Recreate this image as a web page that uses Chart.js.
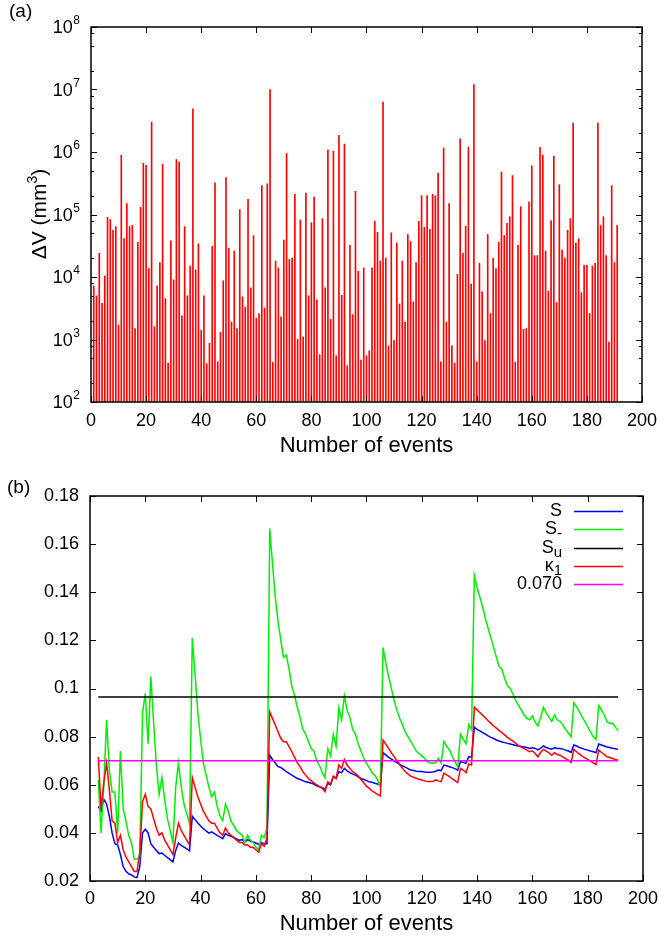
<!DOCTYPE html>
<html>
<head>
<meta charset="utf-8">
<title>Event volumes and entropy estimators</title>
<script src="https://cdn.jsdelivr.net/npm/chart.js@4.4.0/dist/chart.umd.min.js"></script>
<style>
    html, body { margin: 0; padding: 0; background: #fff; }
    .panel { position: absolute; left: 0; width: 665px; height: 468px; }
    #panelA { top: 0; }
    #panelB { top: 468px; }
</style>
</head>
<body>
<div class="panel" id="panelA"><canvas id="volumeChart" width="665" height="468"></canvas></div>
<div class="panel" id="panelB"><canvas id="entropyChart" width="665" height="468"></canvas></div>
<script>
(function() {
    'use strict';

    // ---- data ---------------------------------------------------------

    // Volume change of each event (mm^3), events 1..191
    const DV_VALUES = [
        7200, 5000, 24000, 3800, 10400, 90000, 83000, 56000, 64000, 1700,
        890000, 41000, 150000, 64000, 67000, 1500, 36000, 130000, 660000, 610000,
        13600, 3000000, 1600, 7200, 17000, 640000, 4500, 420, 38000, 9000,
        760000, 690000, 2400, 64000, 5000, 15000, 4900000, 13000, 34000, 1400,
        5000, 410, 870, 31000, 320000, 440, 1300, 8700, 390000, 29000,
        1900, 26000, 1500, 120000, 4800, 3300, 175000, 6700, 46000, 2200,
        2600, 290000, 3200, 310000, 10000000, 430, 18000, 14000, 2300, 39000,
        950000, 19000, 20000, 210000, 1000, 82000, 1100, 220000, 5000, 74000,
        190000, 4300, 570, 86000, 6700, 1080000, 2100, 1030000, 550, 1850000,
        5100, 1340000, 380, 32000, 2500, 235000, 12300, 470, 14000, 550,
        660, 14000, 78000, 52000, 18000, 6300000, 20000, 790, 51000, 960,
        35000, 3700, 18000, 1900, 48000, 37000, 4000, 17000, 78000, 200000,
        62000, 200000, 58000, 210000, 200000, 460000, 440, 1160000, 1900, 150000,
        790, 420, 11000, 1630000, 24000, 65000, 1200000, 7700, 12000000, 440,
        16600, 5800, 960, 48000, 2600, 20000, 13600, 36000, 480000, 46000,
        72000, 92000, 420000, 430, 32000, 133000, 1460, 1500, 160000, 600000,
        22000, 22000, 1190000, 890000, 26000, 5900, 80000, 860000, 3900, 300000,
        27000, 20000, 56000, 86000, 2900000, 35000, 41000, 5600, 15400, 15400,
        2600, 15000, 16600, 2900000, 67000, 92000, 22000, 910, 290000, 17000, 67000
    ];
    const DV_FIRST_EVENT = 1;

    // Estimators, events 3..191
    const SERIES_FIRST_EVENT = 3;
    const S_VALUES = [
        0.051, 0.049, 0.054, 0.052, 0.047, 0.040, 0.0355, 0.035, 0.031, 0.026,
        0.024, 0.023, 0.0225, 0.0217, 0.0214, 0.026, 0.040, 0.0415, 0.040, 0.0355,
        0.034, 0.0327, 0.0314, 0.0316, 0.0307, 0.0297, 0.0289, 0.0279, 0.0327, 0.0358,
        0.0348, 0.0341, 0.0334, 0.0325, 0.0469, 0.0455, 0.0441, 0.0429, 0.0417, 0.0408,
        0.0399, 0.0404, 0.0397, 0.039, 0.0383, 0.0376, 0.0397, 0.039, 0.0386, 0.038,
        0.0375, 0.0369, 0.0372, 0.0362, 0.0372, 0.0366, 0.0362, 0.0358, 0.0352, 0.036,
        0.0355, 0.0355, 0.0723, 0.0705, 0.0691, 0.0675, 0.0672, 0.0664, 0.0654, 0.0647,
        0.064, 0.0633, 0.0626, 0.0622, 0.0617, 0.0612, 0.061, 0.0606, 0.0603, 0.0596,
        0.0592, 0.0588, 0.0581, 0.0606, 0.0599, 0.0633, 0.0626, 0.0654, 0.065, 0.0668,
        0.0658, 0.065, 0.0644, 0.064, 0.0633, 0.0626, 0.0622, 0.0617, 0.0612, 0.061,
        0.0606, 0.0603, 0.0599, 0.0733, 0.0724, 0.0714, 0.0706, 0.0699, 0.0692, 0.0685,
        0.0678, 0.0673, 0.0667, 0.0661, 0.0659, 0.0656, 0.0655, 0.0655, 0.0653, 0.0652,
        0.0652, 0.0653, 0.0656, 0.0661, 0.0659, 0.0682, 0.0679, 0.0675, 0.0671, 0.0667,
        0.0661, 0.0696, 0.0693, 0.0689, 0.0717, 0.0714, 0.0839, 0.083, 0.0824, 0.0817,
        0.081, 0.0803, 0.0797, 0.0792, 0.0786, 0.0782, 0.0778, 0.0775, 0.0772, 0.0769,
        0.0766, 0.0763, 0.0761, 0.0759, 0.0757, 0.0755, 0.0751, 0.0754, 0.0751, 0.0745,
        0.0752, 0.0761, 0.0755, 0.0751, 0.0748, 0.0754, 0.0751, 0.0751, 0.0748, 0.0744,
        0.074, 0.0734, 0.0765, 0.0761, 0.0755, 0.0751, 0.0747, 0.0744, 0.074, 0.0737,
        0.0733, 0.0769, 0.0765, 0.0761, 0.0757, 0.0755, 0.0752, 0.075, 0.0747
    ];
    const S_MINUS_VALUES = [
        0.062, 0.040, 0.060, 0.087, 0.066, 0.057, 0.057, 0.040, 0.074, 0.050,
        0.045, 0.039, 0.036, 0.029, 0.029, 0.030, 0.090, 0.098, 0.077, 0.105,
        0.086, 0.068, 0.056, 0.063, 0.054, 0.046, 0.041, 0.036, 0.059, 0.069,
        0.059, 0.052, 0.048, 0.044, 0.121, 0.106, 0.090, 0.079, 0.069, 0.064,
        0.059, 0.055, 0.057, 0.051, 0.047, 0.045, 0.052, 0.049, 0.045, 0.043,
        0.041, 0.040, 0.039, 0.036, 0.039, 0.037, 0.036, 0.034, 0.033, 0.039,
        0.038, 0.042, 0.1665, 0.152, 0.138, 0.128, 0.120, 0.113, 0.114, 0.108,
        0.101, 0.097, 0.092, 0.088, 0.083, 0.081, 0.078, 0.075, 0.074, 0.070,
        0.068, 0.065, 0.063, 0.075, 0.072, 0.081, 0.076, 0.092, 0.087, 0.097,
        0.091, 0.088, 0.083, 0.081, 0.077, 0.074, 0.071, 0.069, 0.067, 0.065,
        0.064, 0.062, 0.059, 0.117, 0.1105, 0.105, 0.100, 0.095, 0.091, 0.0876,
        0.085, 0.082, 0.080, 0.078, 0.076, 0.074, 0.073, 0.072, 0.071, 0.0696,
        0.069, 0.069, 0.069, 0.071, 0.069, 0.078, 0.076, 0.0745, 0.072, 0.0696,
        0.0675, 0.081, 0.079, 0.077, 0.085, 0.083, 0.147, 0.142, 0.138, 0.134,
        0.129, 0.125, 0.121, 0.117, 0.113, 0.109, 0.108, 0.104, 0.101, 0.100,
        0.0975, 0.095, 0.093, 0.091, 0.089, 0.0876, 0.087, 0.0886, 0.086, 0.0845,
        0.088, 0.0922, 0.090, 0.088, 0.0863, 0.089, 0.087, 0.0863, 0.085, 0.083,
        0.0815, 0.080, 0.0941, 0.0924, 0.0903, 0.0882, 0.0862, 0.0841, 0.082, 0.080,
        0.0789, 0.093, 0.091, 0.089, 0.0862, 0.0855, 0.0856, 0.084, 0.0825
    ];
    const KAPPA1_VALUES = [
        0.0715, 0.050, 0.061, 0.069, 0.058, 0.045, 0.044, 0.036, 0.039, 0.033,
        0.030, 0.028, 0.026, 0.024, 0.024, 0.032, 0.053, 0.056, 0.051, 0.050,
        0.046, 0.042, 0.039, 0.040, 0.037, 0.035, 0.033, 0.031, 0.038, 0.044,
        0.041, 0.039, 0.037, 0.035, 0.063, 0.059, 0.055, 0.052, 0.049, 0.047,
        0.045, 0.044, 0.044, 0.042, 0.040, 0.039, 0.042, 0.040, 0.039, 0.038,
        0.037, 0.036, 0.036, 0.035, 0.035, 0.034, 0.034, 0.033, 0.032, 0.0355,
        0.0345, 0.038, 0.0903, 0.0876, 0.0848, 0.082, 0.0793, 0.0779, 0.0779, 0.0758,
        0.0737, 0.0714, 0.0691, 0.0675, 0.0654, 0.064, 0.0626, 0.0617, 0.0608, 0.0599,
        0.0592, 0.0585, 0.0571, 0.0612, 0.0603, 0.0636, 0.0626, 0.0682, 0.0668, 0.0705,
        0.0682, 0.0668, 0.0654, 0.0647, 0.0636, 0.0622, 0.0608, 0.0594, 0.0585, 0.0575,
        0.0567, 0.056, 0.0553, 0.0786, 0.0769, 0.0751, 0.0733, 0.0717, 0.070, 0.0684,
        0.0668, 0.0655, 0.0645, 0.0636, 0.0631, 0.0627, 0.0623, 0.062, 0.0616, 0.0613,
        0.0613, 0.0613, 0.062, 0.0616, 0.0613, 0.0648, 0.0641, 0.0634, 0.0625, 0.0617,
        0.0609, 0.0668, 0.0661, 0.065, 0.0686, 0.0682, 0.0922, 0.0911, 0.090, 0.0889,
        0.0878, 0.0866, 0.0855, 0.0844, 0.0835, 0.0825, 0.0817, 0.0807, 0.0797, 0.0789,
        0.0781, 0.0772, 0.0763, 0.0756, 0.075, 0.0744, 0.0737, 0.0741, 0.073, 0.0716,
        0.0735, 0.0747, 0.074, 0.0733, 0.0723, 0.0733, 0.0726, 0.0723, 0.0716, 0.0709,
        0.0702, 0.0693, 0.0747, 0.0737, 0.0727, 0.0719, 0.0712, 0.0705, 0.0698, 0.0691,
        0.0684, 0.0744, 0.0734, 0.0726, 0.0716, 0.0713, 0.0709, 0.0705, 0.0702
    ];
    const SU_LEVEL = 0.0965;
    const THRESHOLD_LEVEL = 0.070;
    const LEVEL_EVENTS = [3, 191];

    // Legend text: [main, subscript]
    const SERIES_LABELS = [['S', ''], ['S', '-'], ['S', 'u'], ['\u03ba', '1'], ['0.070', '']];
    const DV_DECADES = [2, 3, 4, 5, 6, 7, 8];
    const DV_MINOR_STEPS = [2, 5, 8];

    // ---- look ---------------------------------------------------------

    const FONT = '"Liberation Sans", Arial, Helvetica, sans-serif';
    const COLORS = {
        bar: '#ff0000',
        s: '#0000ff',
        sMinus: '#00ee00',
        su: '#000000',
        kappa: '#ff0000',
        threshold: '#ff00ff'
    };

    Chart.defaults.font.family = FONT;
    Chart.defaults.font.size = 18;
    Chart.defaults.color = '#000';

    const fmtLinear = v => String(parseFloat(Number(v).toFixed(2)));

    function toPoints(values, first) {
        return values.map((v, i) => ({ x: first + i, y: v }));
    }

    function levelPoints(level) {
        return LEVEL_EVENTS.map(x => ({ x: x, y: level }));
    }

    // no grid, no outer tick marks: the frame plugin draws the inward ticks
    const NO_GRID = { display: false, drawTicks: false };

    // Frame around the plot area with inward ticks on all four sides
    const frameTicks = {
        id: 'frameTicks',
        afterDraw(chart, args, opts) {
            const ctx = chart.ctx;
            const a = chart.chartArea;
            const xs = chart.scales.x;
            const ys = chart.scales.y;
            const major = 6;
            const minor = 3;

            ctx.save();
            ctx.strokeStyle = '#000';
            ctx.lineWidth = 1;
            ctx.beginPath();
            xs.ticks.forEach(t => {
                const px = Math.round(xs.getPixelForValue(t.value)) + 0.5;
                ctx.moveTo(px, a.bottom); ctx.lineTo(px, a.bottom - major);
                ctx.moveTo(px, a.top); ctx.lineTo(px, a.top + major);
            });
            const tickY = (value, len) => {
                const py = Math.round(ys.getPixelForValue(value)) + 0.5;
                ctx.moveTo(a.left, py); ctx.lineTo(a.left + len, py);
                ctx.moveTo(a.right, py); ctx.lineTo(a.right - len, py);
            };
            if (opts.decades) {
                opts.decades.forEach((d, i) => {
                    tickY(Math.pow(10, d), major);
                    if (i < opts.decades.length - 1) {
                        opts.minorSteps.forEach(m => tickY(m * Math.pow(10, d), minor));
                    }
                });
            } else {
                ys.ticks.forEach(t => tickY(t.value, major));
            }
            ctx.stroke();

            ctx.lineWidth = 1.5;
            ctx.strokeRect(a.left, a.top, a.right - a.left, a.bottom - a.top);

            // panel tag
            ctx.fillStyle = '#000';
            ctx.font = '19px ' + FONT;
            ctx.textAlign = 'left';
            ctx.textBaseline = 'middle';
            ctx.fillText(opts.tag, opts.tagX, opts.tagY);
            ctx.restore();
        }
    };

    // Decade labels 10^n on the log axis, and the rotated axis title
    const logLabels = {
        id: 'logLabels',
        afterDraw(chart) {
            const ctx = chart.ctx;
            const ys = chart.scales.y;
            ctx.save();
            ctx.fillStyle = '#000';
            ctx.textBaseline = 'middle';
            DV_DECADES.forEach(d => {
                const py = ys.getPixelForValue(Math.pow(10, d));
                ctx.font = '12px ' + FONT;
                ctx.textAlign = 'right';
                ctx.fillText(String(d), 80, py - 6);
                const expW = ctx.measureText(String(d)).width;
                ctx.font = '18px ' + FONT;
                ctx.fillText('10', 80 - expW - 0.5, py + 1.5);
            });

            // ΔV (mm³) running upwards
            const parts = [['\u0394V (mm', 21, 0], ['3', 14, -7], [')', 21, 0]];
            ctx.translate(40, 214);
            ctx.rotate(-Math.PI / 2);
            let total = 0;
            parts.forEach(p => { ctx.font = p[1] + 'px ' + FONT; total += ctx.measureText(p[0]).width; });
            let x = -total / 2;
            ctx.textAlign = 'left';
            parts.forEach(p => {
                ctx.font = p[1] + 'px ' + FONT;
                ctx.fillText(p[0], x, p[2]);
                x += ctx.measureText(p[0]).width;
            });
            ctx.restore();
        }
    };

    // Key in the upper right: label right-aligned, sample line after it
    const keyBox = {
        id: 'keyBox',
        afterDraw(chart) {
            const ctx = chart.ctx;
            const textRight = 562;
            const lineFrom = 574;
            const lineTo = 623;
            const top = 43;
            const row = 18.3;
            ctx.save();
            ctx.textBaseline = 'middle';
            ctx.textAlign = 'right';
            chart.data.datasets.forEach((ds, i) => {
                const y = top + i * row;
                const main = SERIES_LABELS[i][0];
                const sub = SERIES_LABELS[i][1];
                let x = textRight;
                ctx.fillStyle = '#000';
                if (sub) {
                    ctx.font = '15px ' + FONT;
                    ctx.fillText(sub, x, y + 5);
                    x -= ctx.measureText(sub).width;
                }
                ctx.font = '18px ' + FONT;
                ctx.fillText(main, x, y);

                ctx.strokeStyle = ds.borderColor;
                ctx.lineWidth = 1.5;
                ctx.beginPath();
                ctx.moveTo(lineFrom, Math.round(y) + 0.5);
                ctx.lineTo(lineTo, Math.round(y) + 0.5);
                ctx.stroke();
            });
            ctx.restore();
        }
    };

    const xTitle = (padBottom) => ({
        display: true,
        text: 'Number of events',
        font: { size: 22, lineHeight: 1.1 },
        padding: { top: 0, bottom: padBottom }
    });

    /**
     * (a) volume change of each event, log scale
     */
    function initVolumeChart() {
        new Chart(document.getElementById('volumeChart'), {
            type: 'bar',
            data: {
                datasets: [{
                    data: toPoints(DV_VALUES, DV_FIRST_EVENT),
                    backgroundColor: COLORS.bar,
                    borderWidth: 0,
                    barThickness: 1
                }]
            },
            options: {
                responsive: false,
                animation: false,
                devicePixelRatio: 1,
                layout: { padding: { top: 27, right: 19, left: 0, bottom: 0 } },
                plugins: {
                    legend: { display: false },
                    tooltip: { enabled: false },
                    frameTicks: {
                        decades: DV_DECADES, minorSteps: DV_MINOR_STEPS,
                        tag: '(a)', tagX: 9, tagY: 12
                    }
                },
                scales: {
                    x: {
                        type: 'linear',
                        offset: false,
                        min: 0,
                        max: 200,
                        ticks: { stepSize: 20, padding: 8 },
                        grid: NO_GRID,
                        border: { display: false },
                        title: xTitle(10),
                        afterFit: s => { s.height = 66; }
                    },
                    y: {
                        type: 'logarithmic',
                        min: 1e2,
                        max: 1e8,
                        ticks: { display: false },
                        grid: NO_GRID,
                        border: { display: false },
                        afterFit: s => { s.width = 91; }
                    }
                }
            },
            plugins: [frameTicks, logLabels]
        });
    }

    /**
     * (b) S, S-, Su, kappa1 against the number of events
     */
    function initEntropyChart() {
        new Chart(document.getElementById('entropyChart'), {
            type: 'line',
            data: {
                datasets: [
                    { data: toPoints(S_VALUES, SERIES_FIRST_EVENT), borderColor: COLORS.s, order: 5 },
                    { data: toPoints(S_MINUS_VALUES, SERIES_FIRST_EVENT), borderColor: COLORS.sMinus, order: 4 },
                    { data: levelPoints(SU_LEVEL), borderColor: COLORS.su, order: 3 },
                    { data: toPoints(KAPPA1_VALUES, SERIES_FIRST_EVENT), borderColor: COLORS.kappa, order: 2 },
                    { data: levelPoints(THRESHOLD_LEVEL), borderColor: COLORS.threshold, order: 1 }
                ]
            },
            options: {
                responsive: false,
                animation: false,
                devicePixelRatio: 1,
                layout: { padding: { top: 28, right: 19, left: 0, bottom: 0 } },
                elements: {
                    point: { radius: 0 },
                    line: { borderWidth: 1.5, tension: 0, fill: false }
                },
                plugins: {
                    legend: { display: false },
                    tooltip: { enabled: false },
                    frameTicks: { tag: '(b)', tagX: 7, tagY: 20 }
                },
                scales: {
                    x: {
                        type: 'linear',
                        min: 0,
                        max: 200,
                        ticks: { stepSize: 20, padding: 7 },
                        grid: NO_GRID,
                        border: { display: false },
                        title: xTitle(0),
                        afterFit: s => { s.height = 55; }
                    },
                    y: {
                        min: 0.02,
                        max: 0.18,
                        ticks: { stepSize: 0.02, padding: 11, callback: fmtLinear },
                        grid: NO_GRID,
                        border: { display: false },
                        afterFit: s => { s.width = 90; }
                    }
                }
            },
            plugins: [frameTicks, keyBox]
        });
    }

    initVolumeChart();
    initEntropyChart();
})();
</script>
</body>
</html>
